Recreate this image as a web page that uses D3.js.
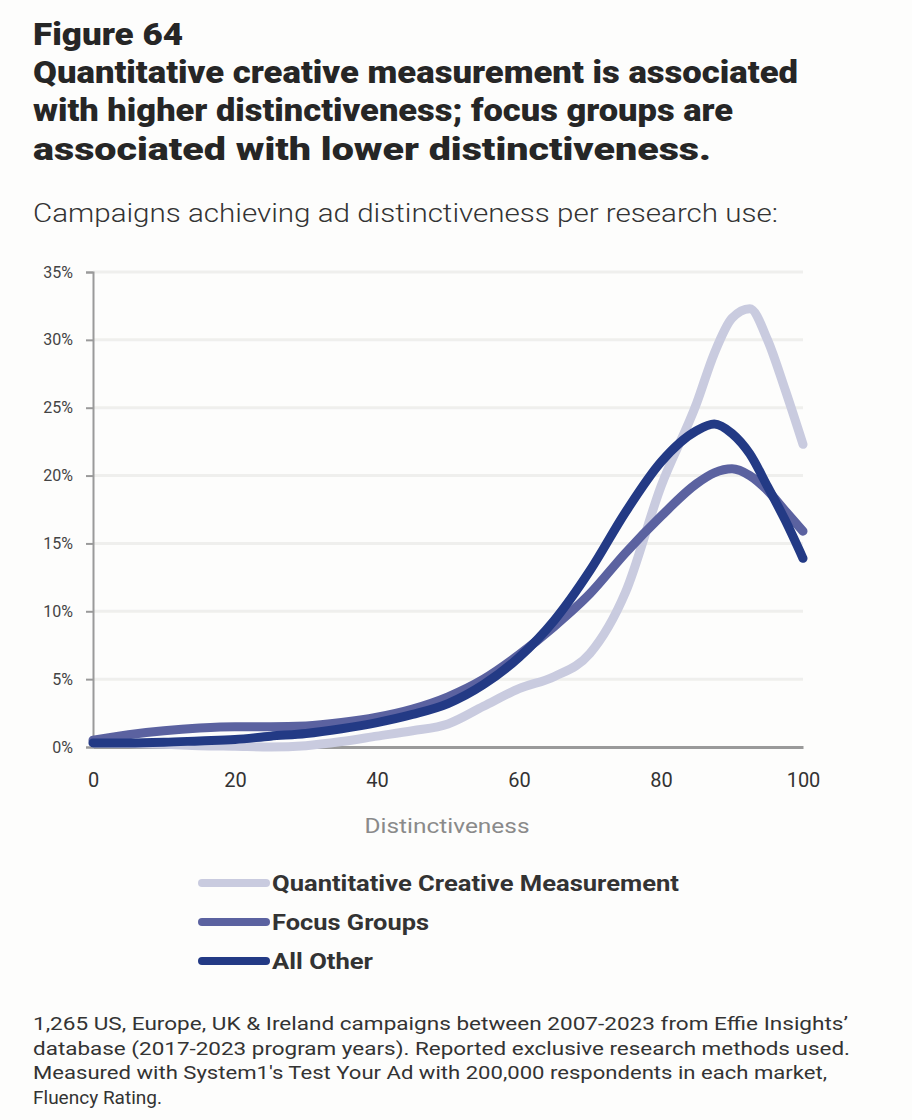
<!DOCTYPE html>
<html>
<head>
<meta charset="utf-8">
<script src="https://cdn.jsdelivr.net/npm/d3@7"></script>
<style>
  html, body { margin: 0; padding: 0; background: #fdfdfc; }
  svg { display: block; font-family: Roboto, "Noto Sans", sans-serif; }
</style>
</head>
<body>
<div id="chart"></div>
<script>
// ---- data ----
var xValues = [0, 5, 10, 15, 20, 25, 30, 35, 40, 45, 50, 55, 60, 65, 70, 75, 80, 85, 87.5, 90, 92.5, 95, 97.5, 100];

var quantValues = [0.3, 0.25, 0.2, 0.1, 0.05, 0.0, 0.1, 0.4, 0.8, 1.2, 1.7, 3.0, 4.3, 5.2, 6.9, 11.4, 19.2, 25.3, 29.0, 31.6, 32.3, 30.0, 26.3, 22.3];
var focusValues = [0.5, 0.9, 1.2, 1.4, 1.5, 1.5, 1.55, 1.8, 2.2, 2.8, 3.7, 5.0, 6.8, 8.9, 11.3, 14.3, 17.0, 19.4, 20.2, 20.5, 20.0, 18.9, 17.4, 15.9];
var otherValues = [0.3, 0.3, 0.35, 0.45, 0.55, 0.8, 1.0, 1.35, 1.8, 2.4, 3.2, 4.6, 6.6, 9.35, 13.0, 17.3, 21.0, 23.3, 23.8, 23.1, 21.6, 19.2, 16.7, 13.9];

var seriesNames = ["Quantitative Creative Measurement", "Focus Groups", "All Other"];
var seriesColors = ["#c9cbdf", "#5b62a0", "#233a85"];

var yTicks = [0, 5, 10, 15, 20, 25, 30, 35];
var xTicks = [0, 20, 40, 60, 80, 100];

var titleLines = [
  "Figure 64",
  "Quantitative creative measurement is associated",
  "with higher distinctiveness; focus groups are",
  "associated with lower distinctiveness."
];
var subtitle = "Campaigns achieving ad distinctiveness per research use:";
var footnoteLines = [
  "1,265 US, Europe, UK & Ireland campaigns between 2007-2023 from Effie Insights\u2019",
  "database  (2017-2023 program years). Reported exclusive research methods used.",
  "Measured with System1's Test Your Ad with 200,000 respondents in each market,",
  "Fluency Rating."
];

// ---- layout ----
var W = 912, H = 1120;
var plot = { left: 93, right: 803, top: 272, bottom: 747 };

var svg = d3.select("#chart").append("svg")
  .attr("width", W).attr("height", H);

svg.append("rect").attr("width", W).attr("height", H).attr("fill", "#fdfdfc");

// titles
var titleY = [45, 83, 121, 160];
var titleW = [150, 765, 700, 678];
titleLines.forEach(function(t, i) {
  svg.append("text")
    .attr("x", 33).attr("y", titleY[i])
    .attr("font-size", 31).attr("font-weight", 900)
    .attr("fill", "#262626")
    .attr("textLength", titleW[i]).attr("lengthAdjust", "spacingAndGlyphs")
    .text(t);
});

svg.append("text")
  .attr("x", 33).attr("y", 222)
  .attr("font-size", 26).attr("font-weight", 300)
  .attr("fill", "#333")
  .attr("textLength", 745).attr("lengthAdjust", "spacingAndGlyphs")
  .text(subtitle);

// scales
var x = d3.scaleLinear().domain([0, 100]).range([plot.left, plot.right]);
var y = d3.scaleLinear().domain([0, 35]).range([plot.bottom, plot.top]);

// gridlines
svg.append("g").selectAll("line")
  .data(yTicks.filter(function(d) { return d > 0; }))
  .enter().append("line")
    .attr("x1", plot.left).attr("x2", plot.right)
    .attr("y1", function(d) { return y(d); })
    .attr("y2", function(d) { return y(d); })
    .attr("stroke", "#efefed").attr("stroke-width", 3);

// y axis
var yAxis = svg.append("g")
  .attr("transform", "translate(" + plot.left + ",0)")
  .call(d3.axisLeft(y).tickValues(yTicks).tickSize(7).tickPadding(13)
    .tickFormat(function(d) { return d + "%"; }));
yAxis.select(".domain").attr("stroke", "#9a9a9a").attr("stroke-width", 2);
yAxis.selectAll(".tick line").attr("stroke", "#9a9a9a").attr("stroke-width", 2);
yAxis.selectAll(".tick text")
  .attr("font-size", 16).attr("fill", "#444").attr("font-family", "Roboto, sans-serif");

// x axis (baseline + labels, no ticks)
var xAxis = svg.append("g")
  .attr("transform", "translate(0," + plot.bottom + ")")
  .call(d3.axisBottom(x).tickValues(xTicks).tickSize(0).tickPadding(26));
xAxis.select(".domain").attr("stroke", "#9a9a9a").attr("stroke-width", 3);
xAxis.selectAll(".tick text")
  .attr("font-size", 20).attr("fill", "#333").attr("font-family", "Roboto, sans-serif");

svg.append("text")
  .attr("x", 447).attr("y", 833)
  .attr("text-anchor", "middle")
  .attr("font-size", 21).attr("fill", "#8a8a8a")
  .attr("textLength", 165).attr("lengthAdjust", "spacingAndGlyphs")
  .text("Distinctiveness");

// lines
var allSeries = [quantValues, focusValues, otherValues];
var line = d3.line()
  .x(function(d, i) { return x(xValues[i]); })
  .y(function(d) { return y(d); })
  .curve(d3.curveMonotoneX);

svg.append("g").selectAll("path")
  .data(allSeries)
  .enter().append("path")
    .attr("d", line)
    .attr("fill", "none")
    .attr("stroke", function(d, i) { return seriesColors[i]; })
    .attr("stroke-width", 9)
    .attr("stroke-linecap", "round")
    .attr("stroke-linejoin", "round");

// legend
var legendW = [407, 157, 101];
var legend = svg.append("g").selectAll("g")
  .data(seriesNames)
  .enter().append("g")
    .attr("transform", function(d, i) { return "translate(0," + (883 + i * 39) + ")"; });
legend.append("line")
  .attr("x1", 202).attr("x2", 266)
  .attr("stroke", function(d, i) { return seriesColors[i]; })
  .attr("stroke-width", 8).attr("stroke-linecap", "round");
legend.append("text")
  .attr("x", 272).attr("y", 8)
  .attr("font-size", 22).attr("font-weight", 700).attr("fill", "#333")
  .attr("textLength", function(d, i) { return legendW[i]; })
  .attr("lengthAdjust", "spacingAndGlyphs")
  .text(function(d) { return d; });

// footnote
var footW = [815, 817, 794, 129];
footnoteLines.forEach(function(t, i) {
  svg.append("text")
    .attr("x", 33).attr("y", 1030 + i * 24.7)
    .attr("font-size", 18.5).attr("fill", "#333")
    .attr("textLength", footW[i]).attr("lengthAdjust", "spacingAndGlyphs")
    .text(t);
});
</script>
</body>
</html>
